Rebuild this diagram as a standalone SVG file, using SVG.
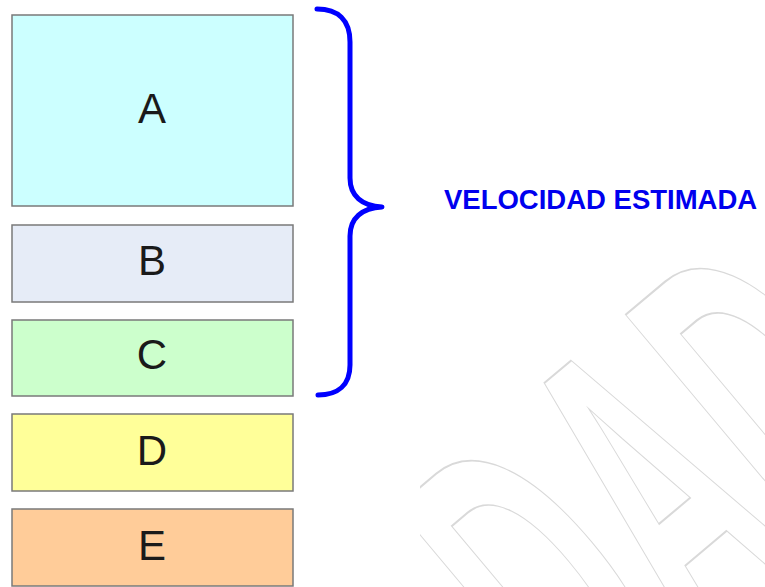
<svg xmlns="http://www.w3.org/2000/svg" width="765" height="587" viewBox="0 0 765 587">
<style>
.box{stroke:#7a7a7a;stroke-width:1.5}
.lbl{font-family:"Liberation Sans",Arial,sans-serif;font-size:42px;fill:#1a1a1a;text-anchor:middle}
.wm{font-family:"Liberation Sans",Arial,sans-serif;font-weight:bold;font-size:450px;fill:none;stroke:#d9d9d9;stroke-width:1.6}
</style>
<defs>
<clipPath id="wmclip"><rect x="420" y="230" width="345" height="357"/></clipPath>
</defs>
<rect width="765" height="587" fill="#ffffff"/>
<g id="watermark" clip-path="url(#wmclip)">
<text class="wm" transform="translate(585,753) rotate(-40) scale(0.46,1)" style="vector-effect:non-scaling-stroke">DAD</text>
</g>
<g id="nodeA"><rect class="box" x="12" y="15" width="281" height="191" fill="#ccffff"/><text class="lbl" x="152" y="123">A</text></g>
<g id="nodeB"><rect class="box" x="12" y="225" width="281" height="77" fill="#e6ecf7"/><text class="lbl" x="152" y="275">B</text></g>
<g id="nodeC"><rect class="box" x="12" y="320" width="281" height="76" fill="#ccffcc"/><text class="lbl" x="152" y="369">C</text></g>
<g id="nodeD"><rect class="box" x="12" y="414" width="281" height="77" fill="#ffff99"/><text class="lbl" x="152" y="465">D</text></g>
<g id="nodeE"><rect class="box" x="12" y="509" width="281" height="77" fill="#ffcc99"/><text class="lbl" x="152" y="560">E</text></g>
<g id="connectors">
<path d="M317,9 C338,9 350,20 350,42 L350,178 C350,196 362,206 382,207 C362,208 350,218 350,236 L350,365 C350,385 338,395 318,395" fill="none" stroke="#0000ff" stroke-width="5" stroke-linecap="round" stroke-linejoin="round"/>
</g>
<g id="label"><text x="444" y="209" font-family="'Liberation Sans',Arial,sans-serif" font-weight="bold" font-size="27.5" fill="#0000ee">VELOCIDAD ESTIMADA</text></g>
</svg>
